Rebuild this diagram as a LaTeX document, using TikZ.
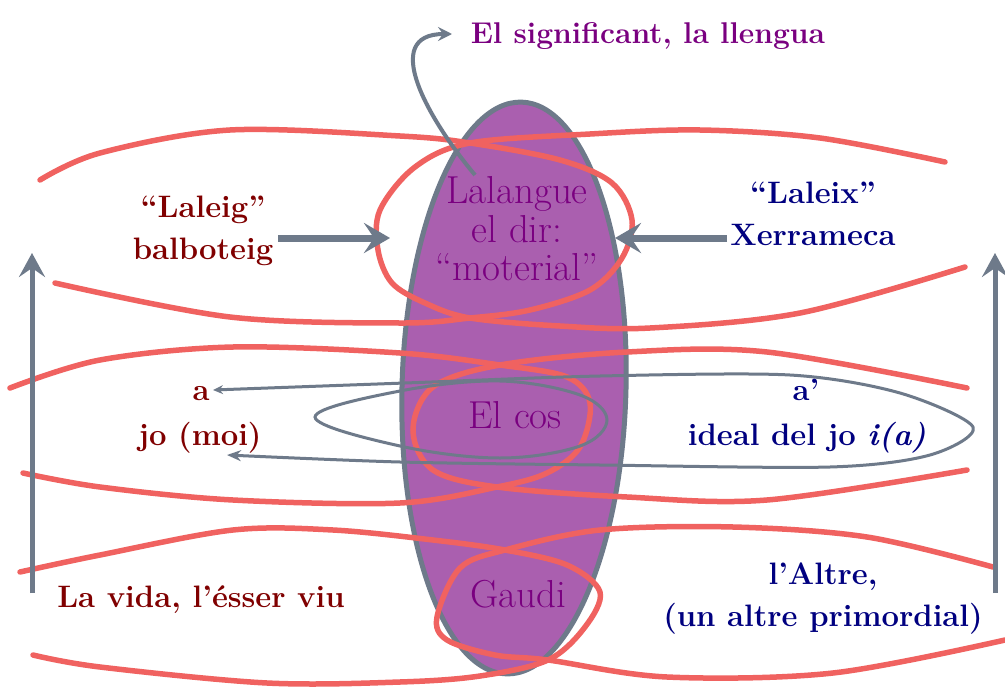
\documentclass[tikz,border=0pt]{standalone}
\usetikzlibrary{arrows.meta}
\definecolor{redl}{RGB}{240,98,96}
\definecolor{ellfill}{RGB}{170,95,175}
\definecolor{grayc}{RGB}{110,122,138}
\definecolor{tmaroon}{RGB}{128,0,0}
\definecolor{tnavy}{RGB}{0,0,128}
\definecolor{tpurple}{RGB}{122,0,128}
\begin{document}
\begin{tikzpicture}[x=1pt,y=-1pt,
  redcurve/.style={draw=redl,line width=5.5pt,line cap=round,smooth,tension=0.55},
  bigarrow/.style={draw=grayc,line width=7pt,-{Stealth[length=26pt,width=30pt,inset=10pt]}},
  vertarrow/.style={draw=grayc,line width=5pt,-{Stealth[length=24pt,width=26pt,inset=9pt]}},
  loopline/.style={draw=grayc,line width=3pt},
  lbl/.style={inner sep=0pt,font=\fontsize{31}{42}\selectfont\bfseries,align=center},
  ctr/.style={inner sep=0pt,font=\fontsize{39}{38.5}\selectfont,text=tpurple,align=center}]
\useasboundingbox (0,0) rectangle (1005,691);
\fill[white] (0,0) rectangle (1005,691);
% central body
\draw[fill=ellfill,draw=grayc,line width=5pt,rotate around={-1.5:(514,388)}] (514,388) ellipse [x radius=112,y radius=286];
% red lassos
\draw[redcurve] plot coordinates {(40,180) (100,153) (230,130) (400,136) (470,143) (560,160) (612,183) (632,220) (622,258) (590,290) (530,310) (470,318) (400,323) (230,317) (55,283)};
\draw[redcurve] plot coordinates {(945,162) (820,138) (700,130) (590,134) (470,143) (415,167) (380,210) (378,250) (392,283) (425,303) (470,318) (560,326) (650,328) (800,313) (965,267)};
\draw[redcurve] plot coordinates {(10,388) (100,360) (233,347) (400,353) (500,365) (567,377) (590,403) (580,447) (547,473) (497,487) (400,503) (233,500) (100,487) (23,473)};
\draw[redcurve] plot coordinates {(967,388) (767,352) (627,352) (500,365) (433,387) (413,430) (433,470) (497,487) (627,497) (767,500) (967,470)};
\draw[redcurve] plot coordinates {(20,572) (100,555) (233,530) (333,530) (433,540) (505,550) (567,565) (600,592) (585,627) (548,660) (480,676) (400,682) (267,683) (100,667) (33,655)};
\draw[redcurve] plot coordinates {(993,567) (867,537) (733,527) (600,530) (505,550) (460,568) (437,617) (447,640) (495,655) (548,660) (667,677) (833,673) (1005,640)};
% text nodes
\node[anchor=base,inner sep=0pt,font=\fontsize{30}{36}\selectfont\bfseries,text=tpurple] (sig) at (648,43) {El significant, la llengua};
\node[lbl,text=tmaroon] (laleig) at (203,231) {``Laleig''\\balboteig};
\node[lbl,text=tnavy] (laleix) at (813,214) {``Laleix''\\Xerrameca};
\node[ctr] (lalangue) at (517,229) {Lalangue\\el dir:\\``moterial''};
\node[ctr,anchor=base] (cos) at (515,428) {El cos};
\node[ctr,anchor=base] (gaudi) at (518,607) {Gaudi};
\node[lbl,anchor=base,text=tmaroon] (a) at (201,400) {a};
\node[lbl,anchor=base,text=tmaroon] (jo) at (200,445) {jo (moi)};
\node[lbl,anchor=base,text=tnavy] (ap) at (806,400) {a'};
\node[lbl,anchor=base,text=tnavy] (ideal) at (807,445) {ideal del jo \textit{i(a)}};
\node[lbl,anchor=base,text=tmaroon] (vida) at (201,607) {La vida, l'ésser viu};
\node[lbl,text=tnavy] (altre) at (823,599) {l'Altre,\\(un altre primordial)};
% gray loops
\coordinate (ga) at (213,390);
\coordinate (gj) at (227,455);
\draw[loopline,{Stealth[length=10pt,width=9pt]}-{Stealth[length=14pt,width=11pt]}] plot[smooth,tension=0.5] coordinates {(ga) (405,383) (600,376) (790,375) (900,393) (973,427) (930,455) (830,467) (600,465) (400,462) (gj)};
\draw[loopline] plot[smooth cycle,tension=0.6] coordinates {(315,417) (400,391) (500,381) (580,395) (607,420) (580,446) (500,458) (400,446)};
% arrows
\coordinate (b1) at (278,238); \coordinate (b2) at (390,238);
\draw[bigarrow] (b1) -- (b2);
\coordinate (x1) at (727,238); \coordinate (x2) at (615,238);
\draw[bigarrow] (x1) -- (x2);
\coordinate (l1) at (32,593); \coordinate (l2) at (32,253);
\draw[vertarrow] (l1) -- (l2);
\coordinate (r1) at (995,593); \coordinate (r2) at (995,253);
\draw[vertarrow] (r1) -- (r2);
\coordinate (c1) at (475,175); \coordinate (c2) at (452,34);
\draw[draw=grayc,line width=4pt,-{Stealth[length=14pt,width=14pt,inset=5pt]}] (c1) to[out=130,in=180,looseness=1.3] (c2);
\end{tikzpicture}
\end{document}
